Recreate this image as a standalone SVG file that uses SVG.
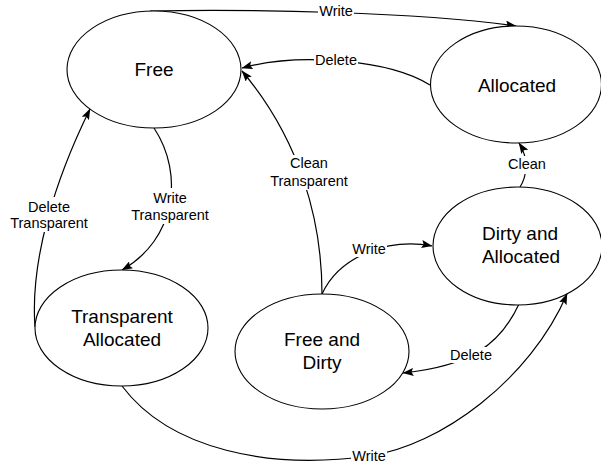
<svg xmlns="http://www.w3.org/2000/svg" width="601" height="463" viewBox="0 0 601 463">
<style>
.node ellipse{fill:#fff;stroke:#000;stroke-width:1.1}
.nl{font-family:"Liberation Sans",Arial,sans-serif;font-size:19px;text-anchor:middle;fill:#000}
.el{font-family:"Liberation Sans",Arial,sans-serif;font-size:14.5px;text-anchor:middle;fill:#000}
.edges path{fill:none;stroke:#000;stroke-width:1.2;marker-end:url(#arr)}
.lbg{fill:#fff}
</style>
<defs>
<marker id="arr" markerUnits="userSpaceOnUse" markerWidth="11" markerHeight="8" refX="10.5" refY="4" orient="auto">
<path d="M0,0 L11,4 L0,8 L2,4 z" fill="#000"/>
</marker>
</defs>
<rect width="601" height="463" fill="#fff"/>
<g class="edges" id="connectors">
<path d="M150 11 C250 9 420 12 516 26"/>
<path d="M430 85 C390 60 300 52 242 68"/>
<path d="M154 128 C185 175 175 240 122 270"/>
<path d="M35 327 C30 260 55 180 90 109"/>
<path d="M322 294 C322 220 300 140 242 71"/>
<path d="M322 294 C340 255 390 238 432 246"/>
<path d="M520 187 C526 178 530 160 519 143"/>
<path d="M519 304 C500 345 470 366 403 373"/>
<path d="M122 386 C170 450 270 470 369 456 C440 446 530 380 567 294"/>
<rect class="lbg" x="318" y="3" width="36" height="16"/>
<text class="el" x="336" y="15.5">Write</text>
<rect class="lbg" x="314" y="52" width="44" height="16"/>
<text class="el" x="336" y="65">Delete</text>
<rect class="lbg" x="269" y="155" width="80" height="35"/>
<text class="el" x="309" y="168">Clean</text>
<text class="el" x="309" y="185.5">Transparent</text>
<rect class="lbg" x="130" y="188" width="80" height="36"/>
<text class="el" x="170" y="202.5">Write</text>
<text class="el" x="170" y="219.5">Transparent</text>
<rect class="lbg" x="9" y="197" width="80" height="35"/>
<text class="el" x="49" y="211.5">Delete</text>
<text class="el" x="49" y="228">Transparent</text>
<rect class="lbg" x="507" y="156" width="40" height="18"/>
<text class="el" x="527" y="169">Clean</text>
<rect class="lbg" x="351" y="241" width="36" height="16"/>
<text class="el" x="369" y="254">Write</text>
<rect class="lbg" x="449" y="347" width="44" height="16"/>
<text class="el" x="471" y="360">Delete</text>
<rect class="lbg" x="351" y="447" width="36" height="16"/>
<text class="el" x="369" y="460.5">Write</text>
</g>
<g class="node" id="free">
<ellipse cx="154" cy="69.5" rx="87" ry="58.5"/>
<text class="nl" x="154" y="76">Free</text>
</g>
<g class="node" id="allocated">
<ellipse cx="516" cy="84.5" rx="85.5" ry="58.5"/>
<text class="nl" x="517" y="91.5">Allocated</text>
</g>
<g class="node" id="dirty-allocated">
<ellipse cx="517.5" cy="246" rx="84.5" ry="59"/>
<text class="nl" x="520" y="239.5">Dirty and</text>
<text class="nl" x="521" y="263">Allocated</text>
</g>
<g class="node" id="transparent-allocated">
<ellipse cx="121.5" cy="328" rx="86.5" ry="58"/>
<text class="nl" x="122" y="323">Transparent</text>
<text class="nl" x="122" y="346">Allocated</text>
</g>
<g class="node" id="free-dirty">
<ellipse cx="322" cy="351.5" rx="87" ry="57.5"/>
<text class="nl" x="322" y="345.5">Free and</text>
<text class="nl" x="322" y="368.5">Dirty</text>
</g>
</svg>
